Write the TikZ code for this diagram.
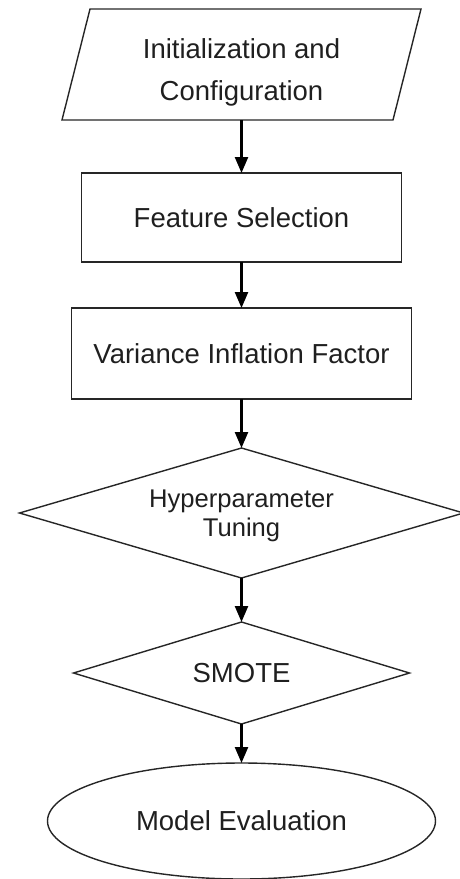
\documentclass[tikz,border=0pt]{standalone}
\usepackage{fontspec}
\setmainfont{Liberation Sans}
\usetikzlibrary{shapes.geometric,arrows.meta}
\begin{document}
\begin{tikzpicture}[x=1pt,y=-1pt,
  shapeline/.style={draw=black!85, line width=1.4pt, inner sep=0pt, outer sep=0pt,
                    text=black!88, align=center},
  outline/.style={draw=black!85, line width=1.4pt, line join=miter},
  stepbox/.style={shapeline, rectangle},
  decision/.style={shapeline, diamond},
  terminal/.style={shapeline, ellipse},
  flow/.style={line width=2.4pt, black, -{Triangle[length=16pt,width=13pt]}},
  bigtext/.style={font=\fontsize{27.5}{42}\selectfont, text=black!88},
  midtext/.style={font=\fontsize{25.6}{29}\selectfont}]
\useasboundingbox (0,0) rectangle (460,879);

% input block: a slanted parallelogram around an invisible frame
\node[minimum width=331pt, minimum height=111pt, inner sep=0pt, outer sep=0pt]
  (initframe) at (241.5,64.5) {};
\draw[outline] ([xshift=14pt]initframe.north west) -- ([xshift=14pt]initframe.north east)
  -- ([xshift=-14pt]initframe.south east) -- ([xshift=-14pt]initframe.south west) -- cycle;
\node[bigtext, align=center, inner sep=0pt] (initlabel) at (241.5,72)
  {Initialization and\\Configuration};

% process chain, top to bottom
\node[stepbox, bigtext, minimum width=320pt, minimum height=89pt] (feat) at (241.5,217.5)
  {Feature Selection};
\node[stepbox, bigtext, minimum width=340pt, minimum height=91pt] (vif) at (241.5,353.5)
  {Variance Inflation Factor};
\node[decision, midtext, aspect=3.415, text depth=0pt,
      minimum width=444pt, minimum height=130pt] (tune) at (241.5,513)
  {Hyperparameter\\Tuning};
\node[decision, bigtext, aspect=3.29,
      minimum width=336pt, minimum height=102pt] (smote) at (241.5,673)
  {SMOTE};
\node[terminal, bigtext, minimum width=388pt, minimum height=116pt] (eval) at (241.5,821)
  {Model Evaluation};

% connectors
\draw[flow] (initframe.south) -- (feat.north);
\draw[flow] (feat.south) -- (vif.north);
\draw[flow] (vif.south) -- (tune.north);
\draw[flow] (tune.south) -- (smote.north);
\draw[flow] (smote.south) -- (eval.north);
\end{tikzpicture}
\end{document}
